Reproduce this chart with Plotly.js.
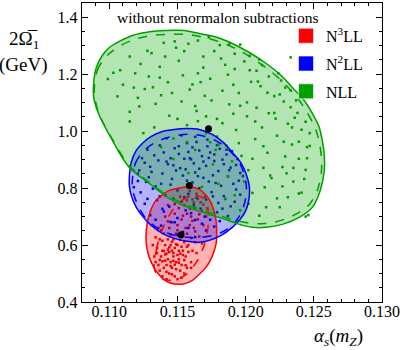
<!DOCTYPE html>
<html>
<head>
<meta charset="utf-8">
<script src="https://cdn.plot.ly/plotly-3.0.1.min.js"></script>
<style>
  html, body { margin: 0; padding: 0; background: #fff; }
  #plot { width: 403px; height: 350px; }
</style>
</head>
<body>
<div id="plot"></div>
<script>
// contour outlines (alpha_s, 2*Omega_1)
const greenX = [0.10883,0.10905,0.10949,0.11000,0.11073,0.11169,0.11308,0.11403,0.11550,0.11660,0.11792,0.11902,0.12027,0.12151,0.12261,0.12342,0.12430,0.12489,0.12540,0.12562,0.12577,0.12577,0.12547,0.12489,0.12393,0.12269,0.12151,0.12049,0.11931,0.11829,0.11638,0.11462,0.11293,0.11147,0.11015,0.10927,0.10890,0.10883];
const greenY = [1.1428,1.2235,1.2656,1.2937,1.3147,1.3358,1.3498,1.3533,1.3533,1.3428,1.3288,1.3077,1.2761,1.2375,1.1954,1.1533,1.1077,1.0621,1.0130,0.9674,0.9147,0.8621,0.7919,0.7323,0.6972,0.6726,0.6621,0.6621,0.6761,0.6937,0.7218,0.7568,0.8165,0.8726,0.9744,1.0551,1.1077,1.1428];
const greenDashX = [0.10890,0.10912,0.10971,0.11059,0.11183,0.11308,0.11440,0.11572,0.11697,0.11821,0.11953,0.12085,0.12203,0.12305,0.12393,0.12459,0.12511,0.12540,0.12555,0.12555,0.12525,0.12467,0.12379,0.12261,0.12144,0.12041,0.11924,0.11829,0.11638,0.11462,0.11293,0.11147,0.11015,0.10927,0.10898,0.10890];
const greenDashY = [1.1428,1.2130,1.2586,1.2937,1.3218,1.3358,1.3393,1.3393,1.3288,1.3112,1.2832,1.2446,1.2025,1.1568,1.1077,1.0586,1.0095,0.9604,0.9077,0.8551,0.7919,0.7428,0.7112,0.6867,0.6761,0.6761,0.6867,0.7007,0.7288,0.7639,0.8200,0.8797,0.9779,1.0586,1.1077,1.1428];

const blueX = [0.11147,0.11161,0.11198,0.11242,0.11308,0.11389,0.11477,0.11565,0.11660,0.11755,0.11836,0.11902,0.11968,0.12005,0.12027,0.12027,0.12005,0.11960,0.11902,0.11821,0.11733,0.11660,0.11572,0.11477,0.11389,0.11308,0.11257,0.11198,0.11161,0.11147,0.11147];
const blueY = [0.8375,0.8902,0.9323,0.9569,0.9814,0.9989,1.0060,1.0095,1.0060,0.9884,0.9604,0.9253,0.8867,0.8481,0.8060,0.7709,0.7253,0.6902,0.6621,0.6340,0.6165,0.6095,0.6130,0.6235,0.6411,0.6691,0.6937,0.7323,0.7744,0.8095,0.8375];
const blueDashX = [0.11169,0.11191,0.11257,0.11367,0.11499,0.11623,0.11748,0.11865,0.11953,0.11997,0.12005,0.11975,0.11909,0.11807,0.11682,0.11572,0.11455,0.11345,0.11257,0.11198,0.11169,0.11169];
const blueDashY = [0.8270,0.8867,0.9323,0.9674,0.9849,0.9884,0.9744,0.9393,0.8902,0.8340,0.7814,0.7218,0.6726,0.6411,0.6270,0.6270,0.6375,0.6621,0.7007,0.7533,0.7989,0.8270];

const redX = [0.11269,0.11279,0.11301,0.11337,0.11389,0.11440,0.11513,0.11587,0.11660,0.11711,0.11748,0.11770,0.11785,0.11787,0.11785,0.11766,0.11741,0.11709,0.11660,0.11609,0.11550,0.11506,0.11455,0.11403,0.11359,0.11323,0.11293,0.11275,0.11269];
const redY = [0.6281,0.6797,0.7182,0.7533,0.7761,0.7919,0.8007,0.8035,0.7954,0.7744,0.7463,0.7147,0.6797,0.6446,0.6095,0.5744,0.5463,0.5217,0.4972,0.4761,0.4639,0.4621,0.4656,0.4779,0.4990,0.5253,0.5568,0.5919,0.6281];
const redDashX = [0.11330,0.11345,0.11381,0.11440,0.11499,0.11572,0.11645,0.11704,0.11726,0.11719,0.11682,0.11623,0.11543,0.11440,0.11367,0.11330];
const redDashY = [0.5182,0.5814,0.6446,0.7042,0.7428,0.7674,0.7744,0.7568,0.7112,0.6446,0.5814,0.5288,0.4902,0.4761,0.4867,0.5182];

// best fit points (red, blue, green)
const centerX = [0.11526, 0.11587, 0.11728];
const centerY = [0.6365, 0.8095, 1.0084];

// scan points
const greenPts = [
  [0.1099,1.183],[0.1106,1.122],[0.1108,1.214],[0.1115,1.068],[0.1118,1.153],[0.1123,1.236],[0.1122,1.087],[0.1129,1.192],
  [0.1133,1.013],[0.1131,1.274],[0.1138,1.126],[0.1137,1.226],[0.1144,1.054],[0.1143,1.172],[0.1149,1.293],[0.1147,0.974],
  [0.1153,1.104],[0.1151,1.247],[0.1157,1.021],[0.1159,1.146],[0.1158,1.307],[0.1163,0.934],[0.1165,1.203],[0.1164,1.071],
  [0.1169,1.262],[0.1171,0.993],[0.1170,1.124],[0.1176,0.883],[0.1174,1.184],[0.1179,1.043],[0.1181,1.302],[0.1180,0.952],
  [0.1185,1.233],[0.1188,1.094],[0.1187,0.842],[0.1191,1.163],[0.1193,1.004],[0.1192,1.272],[0.1197,0.913],[0.1195,1.134],
  [0.1201,1.052],[0.1203,1.214],[0.1202,0.863],[0.1207,0.972],[0.1209,1.174],[0.1208,1.082],[0.1214,0.803],[0.1212,1.013],
  [0.1217,1.192],[0.1216,0.924],[0.1221,1.123],[0.1223,0.764],[0.1222,1.044],[0.1227,0.874],[0.1229,1.153],[0.1228,0.963],
  [0.1233,1.084],[0.1235,0.823],[0.1234,1.013],[0.1239,0.903],[0.1238,1.064],[0.1241,0.784],[0.1245,0.944],[0.1244,0.864],
  [0.1247,0.993],[0.1244,0.700],[0.1185,0.762],[0.1196,0.722],[0.1210,0.703],[0.1168,0.804],[0.1158,0.853],[0.1147,0.902],
  [0.1138,0.944],[0.1125,0.993],[0.1115,1.034],[0.1188,1.305],[0.1210,1.252],[0.1224,1.203],[0.1233,1.143],[0.1203,1.265],
  [0.1173,1.330],[0.1140,1.310],[0.1128,1.282],[0.1190,0.894],[0.1178,0.934],[0.1205,0.783],[0.1218,0.844],[0.1234,0.953],
  [0.1244,1.033],[0.1228,1.104],[0.1165,1.035],[0.1157,0.962],[0.1196,1.304],[0.1233,1.259],[0.1246,0.705],[0.1215,0.733],
  [0.1119,1.203],[0.1126,1.148],[0.1134,1.096],[0.1141,1.262],[0.1137,1.188],[0.1150,1.043],[0.1155,1.281],[0.1161,1.164],
  [0.1163,1.088],[0.1169,1.223],[0.1171,1.052],[0.1177,1.281],[0.1179,0.981],[0.1183,1.142],[0.1187,1.198],[0.1191,1.061],
  [0.1195,0.958],[0.1199,1.245],[0.1201,1.101],[0.1205,0.903],[0.1207,1.034],[0.1211,1.158],[0.1213,0.947],[0.1217,1.063],
  [0.1219,0.835],[0.1223,0.984],[0.1225,1.129],[0.1229,0.911],[0.1231,1.026],[0.1235,0.871],[0.1237,1.108],[0.1239,0.963],
  [0.1243,0.832],[0.1241,1.005],[0.1227,0.806],[0.1213,0.871],[0.1199,0.823],[0.1186,0.948],[0.1175,1.108],[0.1167,1.172],
  [0.1154,1.196],[0.1146,1.134],[0.1132,1.154],[0.1121,1.117],[0.1110,1.163],[0.1103,1.205],[0.1115,1.262],[0.1148,1.315],
  [0.1165,1.318],[0.1182,1.255],[0.1192,1.218],[0.1208,1.212],[0.1216,1.135],[0.1221,1.064],[0.1230,0.852],[0.1202,0.745],
  [0.1192,0.775],[0.1180,0.815],[0.1174,0.961],[0.1183,1.028],[0.1196,1.089],[0.1204,1.173],[0.1212,1.232],[0.1226,1.178],
  [0.1236,1.047],[0.1245,0.905],[0.1247,0.948],[0.1239,0.781],[0.1225,0.733],[0.1231,0.768]
];
const bluePts = [
  [0.1142,0.975],[0.1153,0.985],[0.1163,0.980],[0.1172,0.970],
  [0.1128,0.935],[0.1137,0.950],[0.1148,0.940],[0.1157,0.958],[0.1166,0.932],[0.1172,0.947],[0.1181,0.938],[0.1190,0.930],
  [0.1124,0.905],[0.1133,0.915],[0.1142,0.893],[0.1151,0.920],[0.1160,0.901],[0.1168,0.912],[0.1177,0.895],[0.1186,0.918],[0.1194,0.902],
  [0.1122,0.862],[0.1130,0.875],[0.1139,0.851],[0.1147,0.880],[0.1156,0.866],[0.1163,0.855],[0.1171,0.878],[0.1180,0.860],[0.1189,0.872],[0.1196,0.853],
  [0.1121,0.825],[0.1129,0.838],[0.1138,0.815],[0.1146,0.832],[0.1154,0.844],[0.1161,0.820],[0.1169,0.836],[0.1178,0.818],[0.1187,0.841],[0.1195,0.826],
  [0.1123,0.785],[0.1132,0.798],[0.1141,0.775],[0.1150,0.792],[0.1158,0.780],[0.1166,0.800],[0.1175,0.786],[0.1184,0.772],[0.1193,0.795],
  [0.1126,0.745],[0.1135,0.758],[0.1144,0.735],[0.1153,0.752],[0.1162,0.740],[0.1171,0.760],[0.1180,0.748],[0.1189,0.736],
  [0.1130,0.705],[0.1140,0.718],[0.1150,0.695],[0.1160,0.712],[0.1170,0.700],[0.1179,0.715],[0.1187,0.702],
  [0.1138,0.668],[0.1148,0.680],[0.1158,0.660],[0.1168,0.675],[0.1177,0.665],
  [0.1150,0.635],[0.1163,0.628],
  [0.1159,0.905],[0.1166,0.868],[0.1174,0.925],[0.1152,0.870],[0.1183,0.900],[0.1145,0.905],[0.1176,0.845],
  [0.1151,0.947],[0.1158,0.927],[0.1164,0.962],[0.1169,0.893],[0.1173,0.906],[0.1179,0.951],[0.1184,0.884],[0.1188,0.863],
  [0.1162,0.887],[0.1155,0.903],[0.1149,0.862],[0.1143,0.884],[0.1136,0.897],[0.1131,0.857],[0.1127,0.822],[0.1134,0.806],
  [0.1145,0.812],[0.1157,0.826],[0.1165,0.842],[0.1173,0.823],[0.1182,0.808],[0.1191,0.815],[0.1198,0.842],[0.1185,0.762],
  [0.1176,0.771],[0.1164,0.766],[0.1155,0.768],[0.1147,0.763],[0.1137,0.771],[0.1128,0.762],[0.1139,0.727],[0.1156,0.722],
  [0.1167,0.728],[0.1183,0.728],[0.1174,0.689],[0.1163,0.688],[0.1145,0.681],[0.1134,0.689],[0.1154,0.646],[0.1171,0.651],
  [0.1181,0.684],[0.1192,0.752],[0.1196,0.777],[0.1118,0.803],[0.1121,0.851],[0.1126,0.889],[0.1140,0.925],[0.1161,0.943],
  [0.1177,0.918],[0.1186,0.935],[0.1193,0.881]
];
const redPts = [
  [0.1140,0.52],[0.1143,0.55],[0.1146,0.58],[0.1149,0.54],[0.1152,0.57],[0.1138,0.56],[0.1141,0.60],[0.1144,0.50],
  [0.1147,0.62],[0.1150,0.60],[0.1153,0.53],[0.1155,0.61],[0.1136,0.53],[0.1139,0.58],[0.1142,0.57],[0.1145,0.54],
  [0.1148,0.59],[0.1151,0.55],[0.1154,0.58],[0.1157,0.64],[0.1135,0.59],[0.1137,0.51],[0.1143,0.62],[0.1146,0.52],
  [0.1149,0.64],[0.1152,0.51],[0.1156,0.56],[0.1158,0.60],[0.1140,0.64],[0.1144,0.66],[0.1147,0.56],[0.1150,0.67],
  [0.1153,0.63],[0.1159,0.67],[0.1161,0.58],[0.1133,0.56],[0.1139,0.49],[0.1148,0.49],[0.1157,0.52],[0.1160,0.54],
  [0.1142,0.53],[0.1145,0.60],[0.1151,0.58],[0.1137,0.62],[0.1153,0.69],[0.1157,0.71],[0.1160,0.70],[0.1163,0.73],
  [0.1162,0.66],[0.1165,0.69],[0.1167,0.75],[0.1155,0.74],[0.1158,0.77],[0.1161,0.76],[0.1164,0.78],[0.1168,0.72],
  [0.1170,0.77],[0.1148,0.71],[0.1151,0.73],[0.1146,0.68],[0.1166,0.63],[0.1163,0.61],[0.1156,0.66],[0.1141,0.70],
  [0.1136,0.66],[0.1169,0.67],[0.1171,0.70],[0.1159,0.79],[0.1152,0.77],[0.1143,0.74],[0.1142,0.48],[0.1150,0.48],
  [0.1155,0.50],[0.1160,0.52],[0.1134,0.54],[0.1132,0.60],[0.1147,0.545],[0.1144,0.575],[0.1150,0.565],[0.1141,0.545],
  [0.1139,0.543],[0.1141,0.567],[0.1143,0.584],[0.1145,0.526],[0.1147,0.572],[0.1149,0.603],[0.1151,0.538],[0.1153,0.594],
  [0.1146,0.612],[0.1140,0.579],[0.1137,0.548],[0.1144,0.592],[0.1148,0.531],[0.1152,0.618],[0.1155,0.547],[0.1158,0.576],
  [0.1135,0.572],[0.1142,0.506],[0.1149,0.515],[0.1154,0.565],[0.1157,0.594],[0.1160,0.625],[0.1163,0.648],[0.1161,0.685],
  [0.1166,0.708],[0.1159,0.728],[0.1162,0.749],[0.1154,0.703],[0.1150,0.652],[0.1145,0.637],[0.1139,0.615],[0.1134,0.627],
  [0.1138,0.652],[0.1143,0.683],[0.1148,0.744],[0.1157,0.757],[0.1165,0.762],[0.1169,0.742],[0.1172,0.728],[0.1168,0.606],
  [0.1164,0.572],[0.1156,0.529],[0.1146,0.497],[0.1153,0.485]
];

const serif = 'Liberation Serif, Times New Roman, serif';
const lineRed = '#ff0000', lineBlue = '#0000ff', lineGreen = '#00a000';

function region(xs, ys, fill) {
    return { x: xs, y: ys, type: 'scatter', mode: 'lines', fill: 'toself', fillcolor: fill,
             line: { width: 0, shape: 'spline' }, hoverinfo: 'skip', showlegend: false };
}
function outline(xs, ys, color, dash) {
    return { x: xs, y: ys, type: 'scatter', mode: 'lines',
             line: { color: color, width: 1.5, dash: dash, shape: 'spline' }, hoverinfo: 'skip', showlegend: false };
}
function cloud(pts, color) {
    return { x: pts.map(p => p[0]), y: pts.map(p => p[1]), type: 'scatter', mode: 'markers',
             marker: { color: color, size: 2.5, symbol: 'square' }, hoverinfo: 'skip', showlegend: false };
}
function key(name, color) {
    return { x: [null], y: [null], type: 'scatter', mode: 'markers', name: name, legendgroup: name,
             marker: { color: color, size: 15, symbol: 'square', line: { color: 'rgba(255,255,255,0.6)', width: 1 } } };
}

const traces = [
    region(redX, redY, 'rgba(255,0,0,0.3)'),
    cloud(redPts, '#ee0000'),
    region(blueX, blueY, 'rgba(0,0,255,0.3)'),
    cloud(bluePts, '#0000dd'),
    region(greenX, greenY, 'rgba(0,170,0,0.3)'),
    cloud(greenPts, '#009900'),
    outline(redX, redY, lineRed, 'solid'),
    outline(redDashX, redDashY, lineRed, 'dash'),
    outline(blueX, blueY, lineBlue, 'solid'),
    outline(blueDashX, blueDashY, lineBlue, 'dash'),
    outline(greenX, greenY, lineGreen, 'solid'),
    outline(greenDashX, greenDashY, lineGreen, 'dash'),
    { x: centerX, y: centerY, type: 'scatter', mode: 'markers', marker: { color: 'black', size: 7 },
      hoverinfo: 'skip', showlegend: false },
    key('N<sup>3</sup>LL', '#ff0000'),
    key('N<sup>2</sup>LL', '#0000ff'),
    key('NLL', '#00a000')
];

const axisStyle = {
    showline: true, linecolor: 'black', linewidth: 1.2, mirror: 'ticks',
    ticks: 'inside', ticklen: 6, tickwidth: 1, tickcolor: 'black',
    showgrid: false, zeroline: false,
    tickfont: { family: serif, size: 16, color: 'black' }
};

const layout = {
    width: 403, height: 350,
    margin: { l: 82, r: 21, t: 3, b: 48 },
    paper_bgcolor: 'white', plot_bgcolor: 'white',
    xaxis: Object.assign({}, axisStyle, {
        range: [0.108, 0.130], tick0: 0.110, dtick: 0.005, tickformat: '.3f', ticklabelstandoff: -5,
        minor: { dtick: 0.001, ticks: 'inside', ticklen: 3, tickcolor: 'black' }
    }),
    yaxis: Object.assign({}, axisStyle, {
        range: [0.4, 1.45], tick0: 0.4, dtick: 0.2, tickformat: '.1f',
        minor: { dtick: 0.05, ticks: 'inside', ticklen: 3, tickcolor: 'black' }
    }),
    showlegend: true,
    legend: {
        x: 0.68, y: 0.947, xanchor: 'left', yanchor: 'top',
        bgcolor: 'rgba(0,0,0,0)', tracegroupgap: 4,
        font: { family: serif, size: 16, color: 'black' }
    },
    annotations: [
        { text: 'without renormalon subtractions', xref: 'paper', yref: 'paper', x: 0.453, y: 0.95,
          xanchor: 'center', yanchor: 'middle', showarrow: false,
          font: { family: serif, size: 15.5, color: 'black' } },
        { text: '2Ω̅<sub>1</sub>', xref: 'paper', yref: 'paper', x: -0.195, y: 0.875,
          xanchor: 'center', yanchor: 'middle', showarrow: false,
          font: { family: serif, size: 19, color: 'black' } },
        { text: '(GeV)', xref: 'paper', yref: 'paper', x: -0.195, y: 0.792,
          xanchor: 'center', yanchor: 'middle', showarrow: false,
          font: { family: serif, size: 19, color: 'black' } },
        { text: '<i>α<sub>s</sub></i>(<i>m<sub>Z</sub></i>)', xref: 'paper', yref: 'paper', x: 0.943, y: -0.118,
          xanchor: 'right', yanchor: 'middle', showarrow: false,
          font: { family: serif, size: 19, color: 'black' } }
    ]
};

Plotly.newPlot('plot', traces, layout, { staticPlot: true, displayModeBar: false });
</script>
</body>
</html>
